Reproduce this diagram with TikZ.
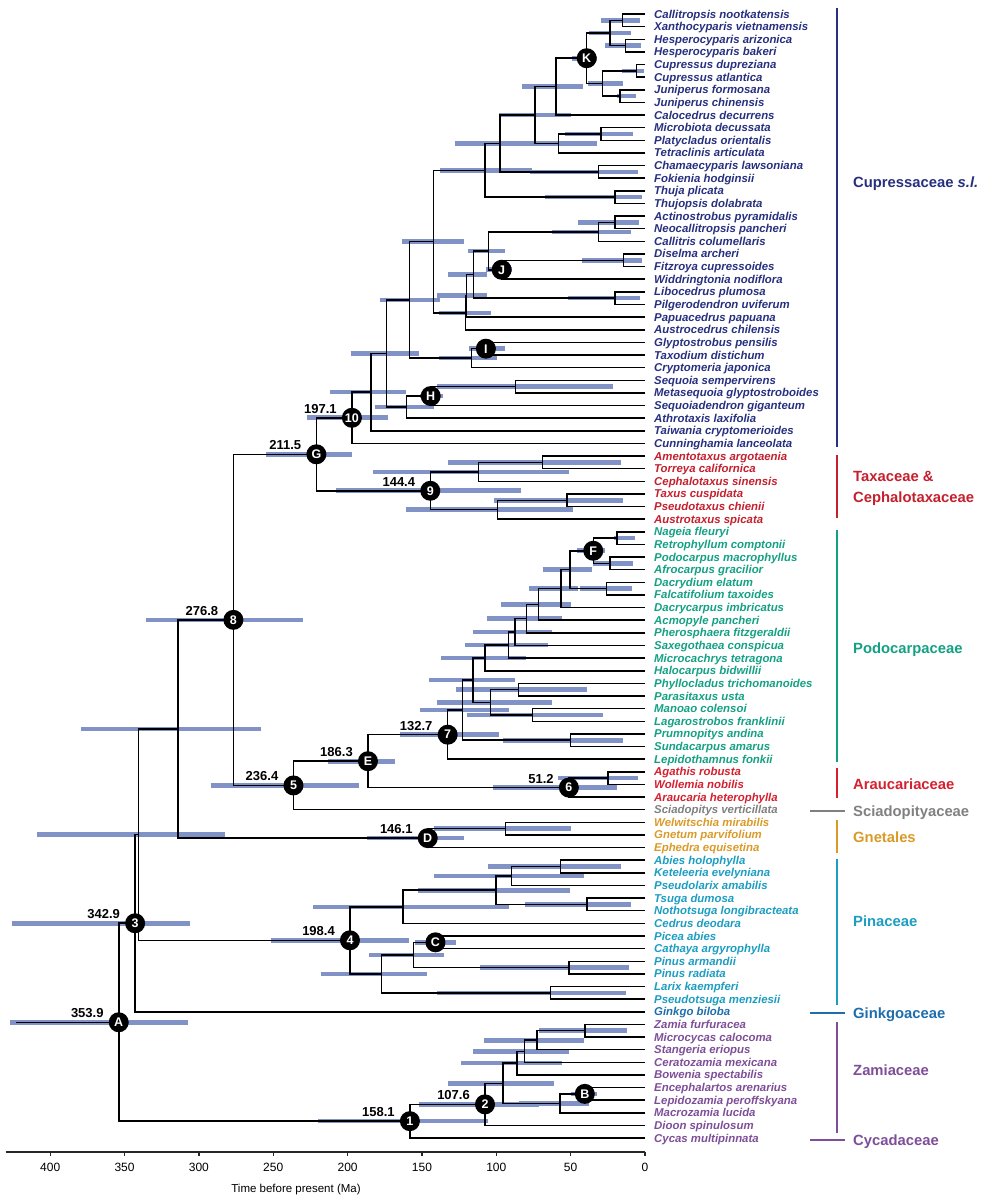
\documentclass[tikz,border=0pt]{standalone}
\usepackage{tikz}
\usepackage{fontspec}
\setmainfont{Liberation Sans}

\definecolor{cupcol}{HTML}{27307F}
\definecolor{taxcol}{HTML}{C4202E}
\definecolor{podcol}{HTML}{14A183}
\definecolor{arcol}{HTML}{D5202F}
\definecolor{scicol}{HTML}{808080}
\definecolor{gnecol}{HTML}{DA9A2A}
\definecolor{pincol}{HTML}{1C9DC1}
\definecolor{ginkcol}{HTML}{1E6EAE}
\definecolor{cyccol}{HTML}{7E4E98}
\definecolor{hpdblue}{HTML}{8193C6}

\pgfdeclarelayer{bars}
\pgfsetlayers{bars,main}

\tikzset{
  branch/.style={black, line width=1.5pt},
  hpd/.style={draw=hpdblue, line width=4.6pt},
  taxon/.style={anchor=base west, inner sep=0pt, xshift=9pt, yshift=-4pt,
    font=\fontsize{11.4}{12}\selectfont\bfseries\itshape},
  badge/.style={circle, fill=black, text=white, inner sep=0pt, minimum size=20pt,
    font=\fontsize{12.5}{12.5}\selectfont\bfseries},
  agelab/.style={anchor=base east, inner sep=0pt, xshift=-15pt, yshift=4.5pt,
    font=\fontsize{13}{13}\selectfont\bfseries},
  axisline/.style={black!85, line width=1.2pt},
  ticklab/.style={inner sep=0pt, font=\fontsize{12}{12}\selectfont},
  cladeline/.style={line width=1.5pt},
  cladename/.style={anchor=base west, inner sep=0pt, font=\fontsize{14.8}{17}\selectfont\bfseries},
}

% name, age, row, hpd old, hpd young, upper child, lower child
\newcommand{\cladenode}[7]{%
  \coordinate (#1) at (#2,#3);
  \begin{pgfonlayer}{bars}\draw[hpd] (#4,#3) -- (#5,#3);\end{pgfonlayer}
  \draw[branch] (#6) -| (#1) |- (#7);}

\begin{document}
\begin{tikzpicture}[x=1pt,y=-1pt]
\useasboundingbox (0,0) rectangle (1000,1200);

\begin{scope}[shift={(645,1.37)}, x=-1.487pt, y=-12.63pt]
\foreach \r in {1,...,90} \coordinate (t\r) at (0,\r);

\cladenode{n12}{15.2}{1.5}{29.6}{3.4}{t1}{t2}
\cladenode{n34}{13}{3.5}{26.9}{2.9}{t3}{t4}
\cladenode{n1234}{23.5}{2.5}{37.4}{9.6}{n12}{n34}
\cladenode{n56}{5.6}{5.5}{15.7}{0.5}{t5}{t6}
\cladenode{n78}{16.8}{7.5}{19}{6.2}{t7}{t8}
\cladenode{n5678}{28.5}{6.5}{38.1}{15}{n56}{n78}
\cladenode{nK}{39.2}{4.5}{49.3}{32.1}{n1234}{n5678}
\cladenode{ncal}{60}{6.75}{82.5}{41.5}{nK}{t9}
\cladenode{nmp}{29.6}{10.5}{53.7}{7.8}{t10}{t11}
\cladenode{nmpt}{58.3}{11.25}{78}{32.5}{nmp}{t12}
\cladenode{ncup}{74}{9}{98.3}{50}{ncal}{nmpt}
\cladenode{ncf}{31.4}{13.5}{77.3}{4.5}{t13}{t14}
\cladenode{ncupc}{97.5}{11.25}{127.8}{70}{ncup}{ncf}
\cladenode{ntt}{20.2}{15.5}{67.2}{2.2}{t15}{t16}
\cladenode{ncupr}{107.6}{13.375}{138}{76}{ncupc}{ntt}
\cladenode{nan}{20.2}{17.5}{44.9}{3.9}{t17}{t18}
\cladenode{nanc}{31.4}{18.25}{62.7}{9.6}{nan}{t19}
\cladenode{ndf}{14.6}{20.5}{42.6}{2.2}{t20}{t21}
\cladenode{nJ}{96.4}{21.25}{107}{89.6}{ndf}{t22}
\cladenode{ncallit}{105.4}{19.75}{118.8}{94.1}{nanc}{nJ}
\cladenode{nlp}{20.2}{23.5}{51.5}{3.4}{t23}{t24}
\cladenode{nsh1}{115.4}{21.625}{132.3}{106.5}{ncallit}{nlp}
\cladenode{nsh2}{120.2}{23.31}{140}{106}{nsh1}{t25}
\cladenode{nsh3}{120.6}{24.66}{138.3}{103.8}{nsh2}{t26}
\cladenode{ncup2}{142.4}{19.02}{163.6}{121.7}{ncupr}{nsh3}
\cladenode{nI}{107}{27.5}{118.1}{94.1}{t27}{t28}
\cladenode{ntax}{116.6}{28.25}{138.3}{99.2}{nI}{t29}
\cladenode{ncup3}{158.4}{23.64}{178}{137.9}{ncup2}{ntax}
\cladenode{nsm}{87}{30.5}{140}{21.3}{t30}{t31}
\cladenode{nH}{144.1}{31.25}{151}{135.6}{nsm}{t32}
\cladenode{nath}{160.3}{32.125}{181.9}{141.7}{nH}{t33}
\cladenode{ncup4}{173.7}{27.88}{197.9}{152.2}{ncup3}{nath}
\cladenode{ncup5}{184.3}{30.94}{211.8}{160.9}{ncup4}{t34}
\cladenode{n10}{197.1}{32.97}{227.4}{172.6}{ncup5}{t35}

\cladenode{nam}{68.8}{36.5}{132.2}{16.3}{t36}{t37}
\cladenode{nceph}{112}{37.25}{183.1}{51.1}{nam}{t38}
\cladenode{ntx}{52.5}{39.5}{101.3}{14.5}{t39}{t40}
\cladenode{ntaxus}{99.3}{40.25}{160.9}{48.6}{ntx}{t41}
\cladenode{n9}{144.4}{38.75}{208}{83.6}{nceph}{ntaxus}
\cladenode{nG}{221}{35.86}{254.9}{197.3}{n10}{n9}

\cladenode{nnr}{19}{42.5}{21}{6.7}{t42}{t43}
\cladenode{npa}{23.5}{44.5}{35}{8}{t44}{t45}
\cladenode{nF}{34.8}{43.5}{45.9}{26.9}{nnr}{npa}
\cladenode{ndfa}{25.8}{46.5}{44}{9}{t46}{t47}
\cladenode{npod1}{50.4}{45}{68.8}{35.6}{nF}{ndfa}
\cladenode{npod2}{56.5}{46.5}{77.8}{45}{npod1}{t48}
\cladenode{npod3}{71.5}{47.75}{96.8}{49.7}{npod2}{t49}
\cladenode{npod4}{79.6}{48.875}{106.5}{55.6}{npod3}{t50}
\cladenode{npod5}{87.4}{49.94}{116}{62.7}{npod4}{t51}
\cladenode{npod6}{91.9}{50.97}{121}{65}{npod5}{t52}
\cladenode{npod7}{107.6}{51.98}{137}{80}{npod6}{t53}
\cladenode{nphy}{85.2}{54.5}{127}{39}{t54}{t55}
\cladenode{nman}{75.5}{56.5}{120}{28}{t56}{t57}
\cladenode{nphm}{103.8}{55.5}{139.7}{62.7}{nphy}{nman}
\cladenode{npod8}{115.6}{53.74}{145}{87.4}{npod7}{nphm}
\cladenode{npru}{50}{58.5}{95.3}{14.6}{t58}{t59}
\cladenode{npod9}{122.9}{56.12}{151.5}{91.3}{npod8}{npru}
\cladenode{n7}{132.7}{58.06}{164.7}{97.9}{npod9}{t60}
\cladenode{naw}{24.9}{61.5}{58.3}{5}{t61}{t62}
\cladenode{n6}{51.2}{62.25}{102}{19}{naw}{t63}
\cladenode{nE}{186.3}{60.16}{213}{168}{n7}{n6}
\cladenode{n5}{236.4}{62.08}{291.9}{192.3}{nE}{t64}
\cladenode{n8}{276.8}{48.97}{335.6}{229.8}{nG}{n5}

\cladenode{nwg}{93.7}{65.5}{142}{49.7}{t65}{t66}
\cladenode{nD}{146.1}{66.25}{187}{121.8}{nwg}{t67}
\cladenode{nx1}{314}{57.61}{379}{258}{n8}{nD}

\cladenode{nak}{56.7}{68.5}{105.5}{16}{t68}{t69}
\cladenode{nakp}{89.8}{69.25}{142}{40.7}{nak}{t70}
\cladenode{ntn}{39}{71.5}{80.5}{9.5}{t71}{t72}
\cladenode{nabie}{100.2}{70.375}{152.6}{50.5}{nakp}{ntn}
\cladenode{ncedr}{162.7}{71.69}{223}{91.7}{nabie}{t73}
\cladenode{nC}{140.9}{74.5}{155}{127}{t74}{t75}
\cladenode{npin}{51}{76.5}{111}{11}{t76}{t77}
\cladenode{npic}{155.7}{75.5}{185.5}{135}{nC}{npin}
\cladenode{nlar}{63.7}{78.5}{140}{12.6}{t78}{t79}
\cladenode{npina}{177.3}{77}{218}{146.5}{npic}{nlar}
\cladenode{n4}{198.4}{74.34}{251.7}{159}{ncedr}{npina}
\cladenode{nx2}{340.5}{65.98}{409}{282.5}{nx1}{n4}
\cladenode{n3}{342.9}{72.99}{426}{306}{nx2}{t80}

\cladenode{nzm}{40.5}{81.5}{71.2}{12}{t81}{t82}
\cladenode{nzms}{72.6}{82.25}{108}{41}{nzm}{t83}
\cladenode{nzmc}{81}{83.125}{115.9}{51.1}{nzms}{t84}
\cladenode{nzmb}{86}{84.06}{123.5}{55.9}{nzmc}{t85}
\cladenode{nB}{40.5}{86.5}{50}{32}{t86}{t87}
\cladenode{nmac}{57.3}{87.25}{85}{37.7}{nB}{t88}
\cladenode{nzam}{95.5}{85.66}{132.7}{61.5}{nzmb}{nmac}
\cladenode{n2}{107.6}{87.33}{151.7}{71.2}{nzam}{t89}
\cladenode{n1}{158.1}{88.66}{219.8}{105.3}{n2}{t90}
\cladenode{nA}{353.9}{80.83}{427}{307}{n3}{n1}
\coordinate (root) at (423,80.83);
\draw[branch] (root) -- (nA);

\foreach \n/\t in {nA/A, n3/3, n8/8, nG/G, n10/10, nH/H, nI/I, nJ/J, nK/K, n9/9,
  n5/5, nE/E, n7/7, nF/F, n6/6, nD/D, n4/4, nC/C, n1/1, n2/2, nB/B}
  \node[badge] (b\n) at (\n) {\t};
\foreach \n/\v in {nA/353.9, n3/342.9, n8/276.8, nG/211.5, n10/197.1, n9/144.4,
  n5/236.4, nE/186.3, n7/132.7, n6/51.2, nD/146.1, n4/198.4, n1/158.1, n2/107.6}
  \node[agelab] (a\n) at (\n) {\v};

\foreach \r/\nm in {1/Callitropsis nootkatensis, 2/Xanthocyparis vietnamensis,
  3/Hesperocyparis arizonica, 4/Hesperocyparis bakeri, 5/Cupressus dupreziana,
  6/Cupressus atlantica, 7/Juniperus formosana, 8/Juniperus chinensis,
  9/Calocedrus decurrens, 10/Microbiota decussata, 11/Platycladus orientalis,
  12/Tetraclinis articulata, 13/Chamaecyparis lawsoniana, 14/Fokienia hodginsii,
  15/Thuja plicata, 16/Thujopsis dolabrata, 17/Actinostrobus pyramidalis,
  18/Neocallitropsis pancheri, 19/Callitris columellaris, 20/Diselma archeri,
  21/Fitzroya cupressoides, 22/Widdringtonia nodiflora, 23/Libocedrus plumosa,
  24/Pilgerodendron uviferum, 25/Papuacedrus papuana, 26/Austrocedrus chilensis,
  27/Glyptostrobus pensilis, 28/Taxodium distichum, 29/Cryptomeria japonica,
  30/Sequoia sempervirens, 31/Metasequoia glyptostroboides,
  32/Sequoiadendron giganteum, 33/Athrotaxis laxifolia,
  34/Taiwania cryptomerioides, 35/Cunninghamia lanceolata}
  \node[taxon, text=cupcol] (lab\r) at (t\r) {\nm};
\foreach \r/\nm in {36/Amentotaxus argotaenia, 37/Torreya californica,
  38/Cephalotaxus sinensis, 39/Taxus cuspidata, 40/Pseudotaxus chienii,
  41/Austrotaxus spicata}
  \node[taxon, text=taxcol] (lab\r) at (t\r) {\nm};
\foreach \r/\nm in {42/Nageia fleuryi, 43/Retrophyllum comptonii,
  44/Podocarpus macrophyllus, 45/Afrocarpus gracilior, 46/Dacrydium elatum,
  47/Falcatifolium taxoides, 48/Dacrycarpus imbricatus, 49/Acmopyle pancheri,
  50/Pherosphaera fitzgeraldii, 51/Saxegothaea conspicua,
  52/Microcachrys tetragona, 53/Halocarpus bidwillii,
  54/Phyllocladus trichomanoides, 55/Parasitaxus usta, 56/Manoao colensoi,
  57/Lagarostrobos franklinii, 58/Prumnopitys andina, 59/Sundacarpus amarus,
  60/Lepidothamnus fonkii}
  \node[taxon, text=podcol] (lab\r) at (t\r) {\nm};
\foreach \r/\nm in {61/Agathis robusta, 62/Wollemia nobilis, 63/Araucaria heterophylla}
  \node[taxon, text=arcol] (lab\r) at (t\r) {\nm};
\node[taxon, text=scicol] (lab64) at (t64) {Sciadopitys verticillata};
\foreach \r/\nm in {65/Welwitschia mirabilis, 66/Gnetum parvifolium, 67/Ephedra equisetina}
  \node[taxon, text=gnecol] (lab\r) at (t\r) {\nm};
\foreach \r/\nm in {68/Abies holophylla, 69/Keteleeria evelyniana,
  70/Pseudolarix amabilis, 71/Tsuga dumosa, 72/Nothotsuga longibracteata,
  73/Cedrus deodara, 74/Picea abies, 75/Cathaya argyrophylla, 76/Pinus armandii,
  77/Pinus radiata, 78/Larix kaempferi, 79/Pseudotsuga menziesii}
  \node[taxon, text=pincol] (lab\r) at (t\r) {\nm};
\node[taxon, text=ginkcol] (lab80) at (t80) {Ginkgo biloba};
\foreach \r/\nm in {81/Zamia furfuracea, 82/Microcycas calocoma,
  83/Stangeria eriopus, 84/Ceratozamia mexicana, 85/Bowenia spectabilis,
  86/Encephalartos arenarius, 87/Lepidozamia peroffskyana, 88/Macrozamia lucida,
  89/Dioon spinulosum, 90/Cycas multipinnata}
  \node[taxon, text=cyccol] (lab\r) at (t\r) {\nm};

\coordinate (axl) at (430,91.1);
\coordinate (axr) at (0,91.1);
\draw[axisline] (axl) -- (axr);
\foreach \t in {0,50,...,400}{
  \draw[axisline] (\t,91.1) -- ++(0,-4pt);
  \node[ticklab] (tk\t) at (\t,92.35) {\t};
}
\node[ticklab, font=\fontsize{11.5}{12}\selectfont] (axtitle) at (234.7,94.1) {Time before present (Ma)};
\end{scope}

\draw[cladeline, cupcol] (837,8) -- (837,447);
\node[cladename, text=cupcol] (cupname) at (853,187) {Cupressaceae \textit{s.l.}};
\draw[cladeline, taxcol] (837,455) -- (837,518);
\node[cladename, text=taxcol] (taxname) at (853,481) {Taxaceae \&};
\node[cladename, text=taxcol] (cephname) at (853,502) {Cephalotaxaceae};
\draw[cladeline, podcol] (837,530) -- (837,762);
\node[cladename, text=podcol] (podname) at (853,653) {Podocarpaceae};
\draw[cladeline, arcol] (837,768) -- (837,798);
\node[cladename, text=arcol] (arname) at (853,789) {Araucariaceae};
\draw[cladeline, scicol] (810,811) -- (845,811);
\node[cladename, text=scicol] (sciname) at (853,816) {Sciadopityaceae};
\draw[cladeline, gnecol] (837,820) -- (837,853);
\node[cladename, text=gnecol] (gnename) at (853,842) {Gnetales};
\draw[cladeline, pincol] (837,859) -- (837,1005);
\node[cladename, text=pincol] (pinname) at (853,926) {Pinaceae};
\draw[cladeline, ginkcol] (810,1013) -- (845,1013);
\node[cladename, text=ginkcol] (ginkname) at (853,1018) {Ginkgoaceae};
\draw[cladeline, cyccol] (837,1022) -- (837,1133);
\node[cladename, text=cyccol] (zamname) at (853,1075) {Zamiaceae};
\draw[cladeline, cyccol] (810,1140) -- (845,1140);
\node[cladename, text=cyccol] (cycname) at (853,1145) {Cycadaceae};
\end{tikzpicture}
\end{document}
